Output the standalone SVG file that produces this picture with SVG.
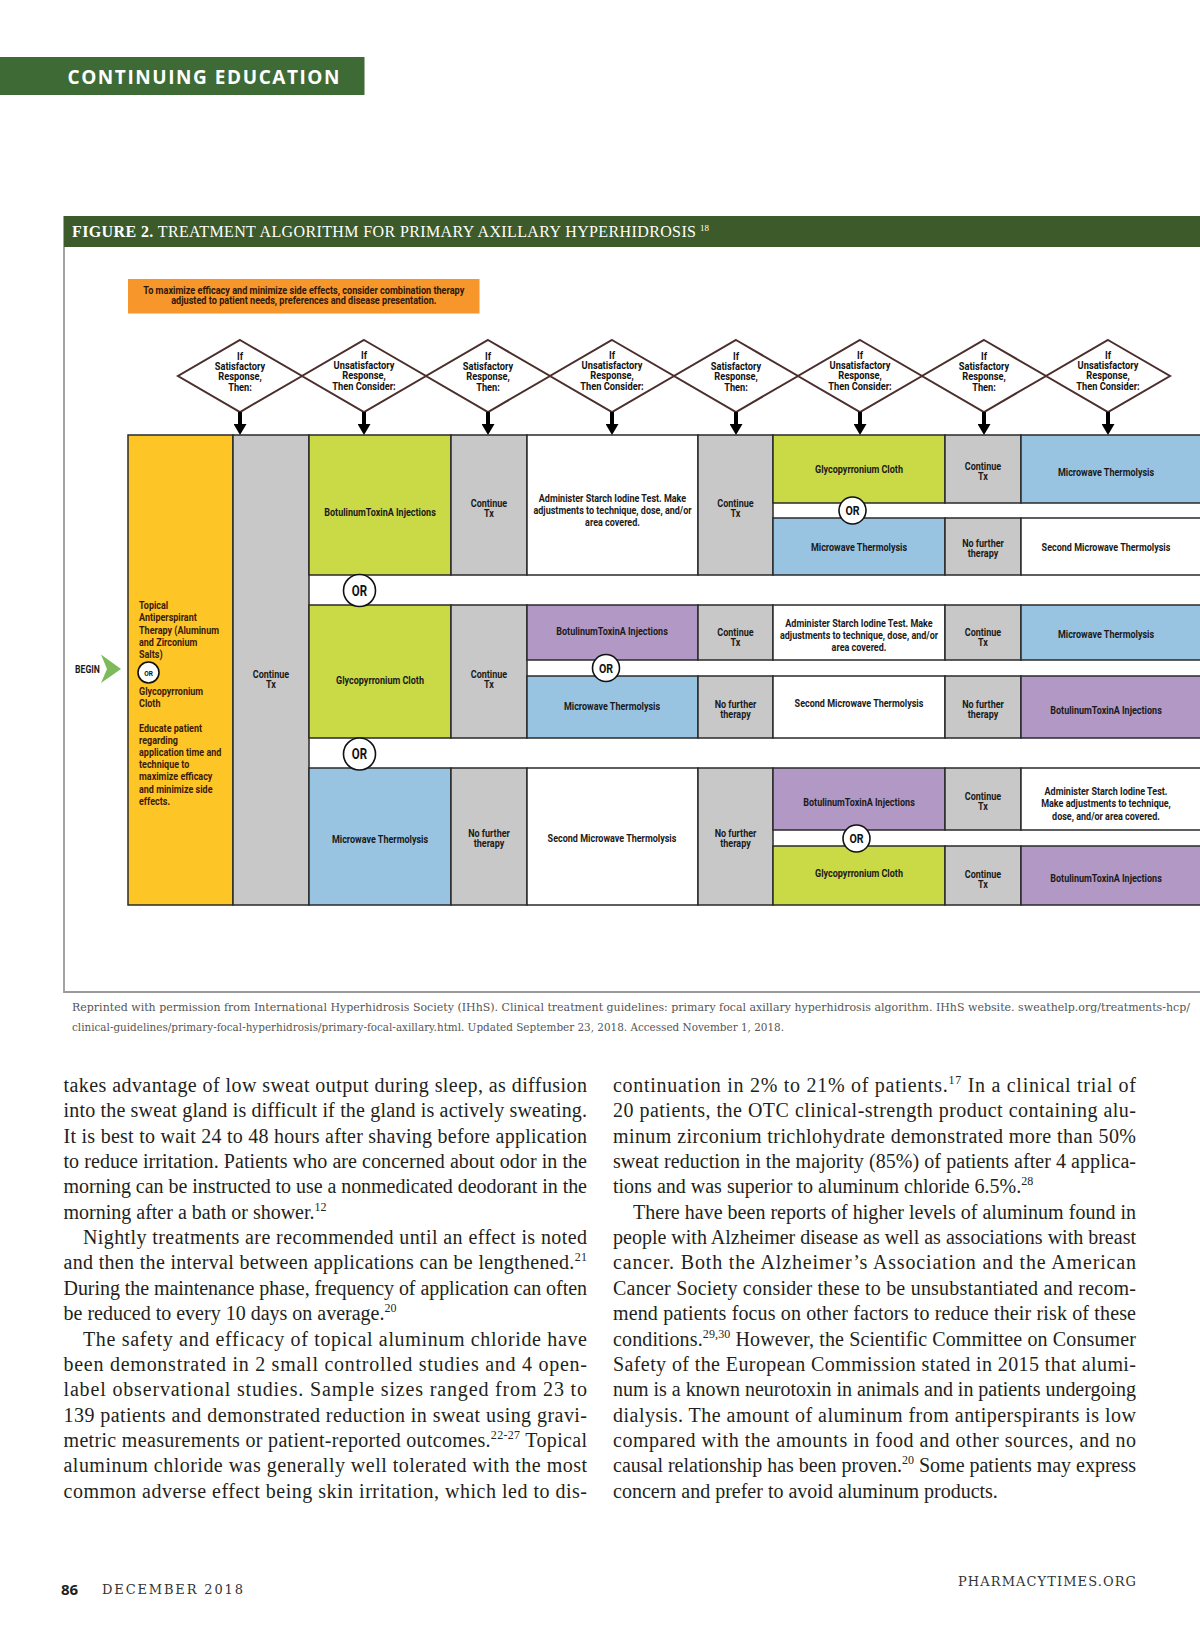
<svg xmlns="http://www.w3.org/2000/svg" width="1200" height="1638" viewBox="0 0 1200 1638">
<defs>
<style>
.c{stroke:#2a2a2a;stroke-width:1.5}
.y{fill:#fec526}.g{fill:#c8c8c8}.l{fill:#cad946}.b{fill:#98c4e2}.p{fill:#b298c4}.w{fill:#fff}
.t{font-family:Roboto,"Liberation Sans",sans-serif;font-weight:700;font-size:11px;fill:#1a1a1a;text-anchor:middle}
.ty{font-family:Roboto,"Liberation Sans",sans-serif;font-weight:700;font-size:11px;fill:#3b1a0c}
.dt{font-family:Roboto,"Liberation Sans",sans-serif;font-weight:700;font-size:10.3px;fill:#111;text-anchor:middle}
.dm{fill:#fff;stroke:#4b2e2c;stroke-width:2}
.orc{fill:#fff;stroke:#111;stroke-width:1.6}
.ort{font-family:Roboto,"Liberation Sans",sans-serif;font-weight:700;fill:#111;text-anchor:middle}
.body{font-family:"Liberation Serif","Times New Roman",serif;font-size:20px;fill:#231f20}
.sup{font-size:12px}
.cap{font-family:"DejaVu Serif",serif;font-size:10.8px;fill:#555}
</style>
<marker id="ah" viewBox="0 0 11 13" markerWidth="11" markerHeight="13" refX="0" refY="6.5" orient="auto" markerUnits="userSpaceOnUse">
<path d="M0,0 L11,6.5 L0,13 z" fill="#000"/>
</marker>
</defs>
<rect width="1200" height="1638" fill="#fff"/>

<!-- page header -->
<g id="header">
<rect x="0" y="57" width="364.5" height="38" fill="#3e6b35"/>
<text x="67.5" y="83.5" font-family="'Open Sans','Liberation Sans',sans-serif" font-weight="700" font-size="19" fill="#fff" textLength="272" lengthAdjust="spacing">CONTINUING EDUCATION</text>
</g>

<!-- figure frame + title -->
<g id="figure-frame">
<path d="M64,216 V992 H1200" fill="none" stroke="#9a9a9a" stroke-width="1.8"/>
<rect x="64" y="216" width="1136" height="31" fill="#3c5a2a"/>
<text x="72" y="237" font-family="'Liberation Serif','Times New Roman',serif" font-size="16" fill="#fff" textLength="624" lengthAdjust="spacing"><tspan font-weight="700">FIGURE 2.</tspan> TREATMENT ALGORITHM FOR PRIMARY AXILLARY HYPERHIDROSIS</text>
<text x="700" y="230.5" font-family="'Liberation Serif','Times New Roman',serif" font-size="9" fill="#fff">18</text>
</g>

<!-- orange note -->
<g id="note">
<rect x="128" y="279" width="351.5" height="34.5" fill="#f7962a"/>
<text class="t" style="fill:#2e160a;font-size:10.5px" transform="translate(303.8,294) scale(.87,1)"><tspan x="0">To maximize efficacy and minimize side effects, consider combination therapy</tspan><tspan x="0" dy="10">adjusted to patient needs, preferences and disease presentation.</tspan></text>
</g>

<!-- decision diamonds -->
<g id="diamond-1"><polygon class="dm" points="240,340 302,376 240,412 178,376"/><text class="dt" transform="translate(240,359.5) scale(.9,1)"><tspan x="0">If</tspan><tspan x="0" dy="10.5">Satisfactory</tspan><tspan x="0" dy="10.5">Response,</tspan><tspan x="0" dy="10.5">Then:</tspan></text></g>
<g id="diamond-2"><polygon class="dm" points="364,340 426,376 364,412 302,376"/><text class="dt" transform="translate(364,358.5) scale(.9,1)"><tspan x="0">If</tspan><tspan x="0" dy="10.5">Unsatisfactory</tspan><tspan x="0" dy="10.5">Response,</tspan><tspan x="0" dy="11">Then Consider:</tspan></text></g>
<g id="diamond-3"><polygon class="dm" points="488,340 550,376 488,412 426,376"/><text class="dt" transform="translate(488,359.5) scale(.9,1)"><tspan x="0">If</tspan><tspan x="0" dy="10.5">Satisfactory</tspan><tspan x="0" dy="10.5">Response,</tspan><tspan x="0" dy="10.5">Then:</tspan></text></g>
<g id="diamond-4"><polygon class="dm" points="612,340 674,376 612,412 550,376"/><text class="dt" transform="translate(612,358.5) scale(.9,1)"><tspan x="0">If</tspan><tspan x="0" dy="10.5">Unsatisfactory</tspan><tspan x="0" dy="10.5">Response,</tspan><tspan x="0" dy="11">Then Consider:</tspan></text></g>
<g id="diamond-5"><polygon class="dm" points="736,340 798,376 736,412 674,376"/><text class="dt" transform="translate(736,359.5) scale(.9,1)"><tspan x="0">If</tspan><tspan x="0" dy="10.5">Satisfactory</tspan><tspan x="0" dy="10.5">Response,</tspan><tspan x="0" dy="10.5">Then:</tspan></text></g>
<g id="diamond-6"><polygon class="dm" points="860,340 922,376 860,412 798,376"/><text class="dt" transform="translate(860,358.5) scale(.9,1)"><tspan x="0">If</tspan><tspan x="0" dy="10.5">Unsatisfactory</tspan><tspan x="0" dy="10.5">Response,</tspan><tspan x="0" dy="11">Then Consider:</tspan></text></g>
<g id="diamond-7"><polygon class="dm" points="984,340 1046,376 984,412 922,376"/><text class="dt" transform="translate(984,359.5) scale(.9,1)"><tspan x="0">If</tspan><tspan x="0" dy="10.5">Satisfactory</tspan><tspan x="0" dy="10.5">Response,</tspan><tspan x="0" dy="10.5">Then:</tspan></text></g>
<g id="diamond-8"><polygon class="dm" points="1108,340 1170,376 1108,412 1046,376"/><text class="dt" transform="translate(1108,358.5) scale(.9,1)"><tspan x="0">If</tspan><tspan x="0" dy="10.5">Unsatisfactory</tspan><tspan x="0" dy="10.5">Response,</tspan><tspan x="0" dy="11">Then Consider:</tspan></text></g>

<!-- start column -->
<g id="begin">
<text class="t" transform="translate(87.5,673) scale(.82,1)" style="font-size:10.5px">BEGIN</text>
</g>
<g id="start-therapy">
<rect class="c y" x="128" y="435" width="105" height="470"/>
<text class="ty" transform="translate(139,609) scale(.82,1)"><tspan x="0">Topical</tspan><tspan x="0" dy="12.5">Antiperspirant</tspan><tspan x="0" dy="12.2">Therapy (Aluminum</tspan><tspan x="0" dy="12">and Zirconium</tspan><tspan x="0" dy="12">Salts)</tspan></text>
<circle class="orc" cx="148.5" cy="672.5" r="10.5"/>
<text class="ort" style="font-size:8px" transform="translate(148.5,675.5) scale(.82,1)">OR</text>
<text class="ty" transform="translate(139,695) scale(.82,1)"><tspan x="0">Glycopyrronium</tspan><tspan x="0" dy="12">Cloth</tspan></text>
<text class="ty" transform="translate(139,732) scale(.82,1)"><tspan x="0">Educate patient</tspan><tspan x="0" dy="12">regarding</tspan><tspan x="0" dy="12">application time and</tspan><tspan x="0" dy="12">technique to</tspan><tspan x="0" dy="12.5">maximize efficacy</tspan><tspan x="0" dy="12.2">and minimize side</tspan><tspan x="0" dy="12">effects.</tspan></text>
</g>
<g id="continue-0">
<rect class="c g" x="233" y="435" width="76" height="470"/>
<text class="t" transform="translate(271,678) scale(.82,1)"><tspan x="0">Continue</tspan><tspan x="0" dy="10">Tx</tspan></text>
</g>

<!-- row 1 -->
<g id="r1-botox"><rect class="c l" x="309" y="435" width="142" height="140"/><text class="t" transform="translate(380,515.7) scale(.82,1)">BotulinumToxinA Injections</text></g>
<g id="r1-continue-1"><rect class="c g" x="451" y="435" width="76" height="140"/><text class="t" transform="translate(489,506.7) scale(.82,1)"><tspan x="0">Continue</tspan><tspan x="0" dy="10">Tx</tspan></text></g>
<g id="r1-starch"><rect class="c w" x="527" y="435" width="171" height="140"/><text class="t" transform="translate(612.5,501.7) scale(.82,1)"><tspan x="0">Administer Starch Iodine Test. Make</tspan><tspan x="0" dy="12.4">adjustments to technique, dose, and/or</tspan><tspan x="0" dy="12.4">area covered.</tspan></text></g>
<g id="r1-continue-2"><rect class="c g" x="698" y="435" width="75" height="140"/><text class="t" transform="translate(735.5,507.3) scale(.82,1)"><tspan x="0">Continue</tspan><tspan x="0" dy="10">Tx</tspan></text></g>
<g id="r1-glyco"><rect class="c l" x="773" y="435" width="172" height="68"/><text class="t" transform="translate(859,473) scale(.82,1)">Glycopyrronium Cloth</text></g>
<g id="r1-microwave"><rect class="c b" x="773" y="518" width="172" height="57"/><text class="t" transform="translate(859,551) scale(.82,1)">Microwave Thermolysis</text></g>
<g id="r1-continue-3"><rect class="c g" x="945" y="435" width="76" height="68"/><text class="t" transform="translate(983,470) scale(.82,1)"><tspan x="0">Continue</tspan><tspan x="0" dy="10">Tx</tspan></text></g>
<g id="r1-nofurther-3"><rect class="c g" x="945" y="518" width="76" height="57"/><text class="t" transform="translate(983,546.7) scale(.82,1)"><tspan x="0">No further</tspan><tspan x="0" dy="10">therapy</tspan></text></g>
<g id="r1-microwave-2"><rect class="c b" x="1021" y="435" width="189" height="68"/><text class="t" transform="translate(1106,476) scale(.82,1)">Microwave Thermolysis</text></g>
<g id="r1-second-mw"><rect class="c w" x="1021" y="518" width="189" height="57"/><text class="t" transform="translate(1106,551) scale(.82,1)">Second Microwave Thermolysis</text></g>

<!-- row 2 -->
<g id="r2-glyco"><rect class="c l" x="309" y="605" width="142" height="133"/><text class="t" transform="translate(380,684) scale(.82,1)">Glycopyrronium Cloth</text></g>
<g id="r2-continue-1"><rect class="c g" x="451" y="605" width="76" height="133"/><text class="t" transform="translate(489,678) scale(.82,1)"><tspan x="0">Continue</tspan><tspan x="0" dy="10">Tx</tspan></text></g>
<g id="r2-botox"><rect class="c p" x="527" y="605" width="171" height="55"/><text class="t" transform="translate(612,635) scale(.82,1)">BotulinumToxinA Injections</text></g>
<g id="r2-microwave"><rect class="c b" x="527" y="676" width="171" height="62"/><text class="t" transform="translate(612,710) scale(.82,1)">Microwave Thermolysis</text></g>
<g id="r2-continue-2"><rect class="c g" x="698" y="605" width="75" height="55"/><text class="t" transform="translate(735.5,636) scale(.82,1)"><tspan x="0">Continue</tspan><tspan x="0" dy="10">Tx</tspan></text></g>
<g id="r2-nofurther-2"><rect class="c g" x="698" y="676" width="75" height="62"/><text class="t" transform="translate(735.5,708) scale(.82,1)"><tspan x="0">No further</tspan><tspan x="0" dy="10">therapy</tspan></text></g>
<g id="r2-starch"><rect class="c w" x="773" y="605" width="172" height="55"/><text class="t" transform="translate(859,626.7) scale(.82,1)"><tspan x="0">Administer Starch Iodine Test. Make</tspan><tspan x="0" dy="12.3">adjustments to technique, dose, and/or</tspan><tspan x="0" dy="12.3">area covered.</tspan></text></g>
<g id="r2-second-mw"><rect class="c w" x="773" y="676" width="172" height="62"/><text class="t" transform="translate(859,707) scale(.82,1)">Second Microwave Thermolysis</text></g>
<g id="r2-continue-3"><rect class="c g" x="945" y="605" width="76" height="55"/><text class="t" transform="translate(983,636) scale(.82,1)"><tspan x="0">Continue</tspan><tspan x="0" dy="10">Tx</tspan></text></g>
<g id="r2-nofurther-3"><rect class="c g" x="945" y="676" width="76" height="62"/><text class="t" transform="translate(983,708) scale(.82,1)"><tspan x="0">No further</tspan><tspan x="0" dy="10">therapy</tspan></text></g>
<g id="r2-microwave-2"><rect class="c b" x="1021" y="605" width="189" height="55"/><text class="t" transform="translate(1106,638) scale(.82,1)">Microwave Thermolysis</text></g>
<g id="r2-botox-2"><rect class="c p" x="1021" y="676" width="189" height="62"/><text class="t" transform="translate(1106,714) scale(.82,1)">BotulinumToxinA Injections</text></g>

<!-- row 3 -->
<g id="r3-microwave"><rect class="c b" x="309" y="768" width="142" height="137"/><text class="t" transform="translate(380,843) scale(.82,1)">Microwave Thermolysis</text></g>
<g id="r3-nofurther-1"><rect class="c g" x="451" y="768" width="76" height="137"/><text class="t" transform="translate(489,837.3) scale(.82,1)"><tspan x="0">No further</tspan><tspan x="0" dy="10">therapy</tspan></text></g>
<g id="r3-second-mw"><rect class="c w" x="527" y="768" width="171" height="137"/><text class="t" transform="translate(612,841.7) scale(.82,1)">Second Microwave Thermolysis</text></g>
<g id="r3-nofurther-2"><rect class="c g" x="698" y="768" width="75" height="137"/><text class="t" transform="translate(735.5,837.3) scale(.82,1)"><tspan x="0">No further</tspan><tspan x="0" dy="10">therapy</tspan></text></g>
<g id="r3-botox"><rect class="c p" x="773" y="768" width="172" height="62"/><text class="t" transform="translate(859,806) scale(.82,1)">BotulinumToxinA Injections</text></g>
<g id="r3-glyco"><rect class="c l" x="773" y="846" width="172" height="59"/><text class="t" transform="translate(859,877) scale(.82,1)">Glycopyrronium Cloth</text></g>
<g id="r3-continue-3a"><rect class="c g" x="945" y="768" width="76" height="62"/><text class="t" transform="translate(983,800) scale(.82,1)"><tspan x="0">Continue</tspan><tspan x="0" dy="10">Tx</tspan></text></g>
<g id="r3-continue-3b"><rect class="c g" x="945" y="846" width="76" height="59"/><text class="t" transform="translate(983,878) scale(.82,1)"><tspan x="0">Continue</tspan><tspan x="0" dy="10">Tx</tspan></text></g>
<g id="r3-starch"><rect class="c w" x="1021" y="768" width="189" height="62"/><text class="t" transform="translate(1106,795) scale(.82,1)"><tspan x="0">Administer Starch Iodine Test.</tspan><tspan x="0" dy="12.3">Make adjustments to technique,</tspan><tspan x="0" dy="12.3">dose, and/or area covered.</tspan></text></g>
<g id="r3-botox-2"><rect class="c p" x="1021" y="846" width="189" height="59"/><text class="t" transform="translate(1106,882) scale(.82,1)">BotulinumToxinA Injections</text></g>

<!-- OR badges -->
<g id="or-1"><circle class="orc" cx="359.5" cy="590.5" r="16"/><text class="ort" style="font-size:14px" transform="translate(359.5,595.5) scale(.82,1)">OR</text></g>
<g id="or-2"><circle class="orc" cx="359.5" cy="754" r="16"/><text class="ort" style="font-size:14px" transform="translate(359.5,759) scale(.82,1)">OR</text></g>
<g id="or-3"><circle class="orc" cx="852.5" cy="510.5" r="13.5"/><text class="ort" style="font-size:13px" transform="translate(852.5,515) scale(.82,1)">OR</text></g>
<g id="or-4"><circle class="orc" cx="606" cy="668" r="13.5"/><text class="ort" style="font-size:13px" transform="translate(606,672.5) scale(.82,1)">OR</text></g>
<g id="or-5"><circle class="orc" cx="856.5" cy="838.5" r="13.5"/><text class="ort" style="font-size:13px" transform="translate(856.5,843) scale(.82,1)">OR</text></g>

<!-- connectors -->
<g id="connectors" stroke="#000" stroke-width="4" fill="none">
<line x1="240" y1="412" x2="240" y2="424" marker-end="url(#ah)"/>
<line x1="364" y1="412" x2="364" y2="424" marker-end="url(#ah)"/>
<line x1="488" y1="412" x2="488" y2="424" marker-end="url(#ah)"/>
<line x1="612" y1="412" x2="612" y2="424" marker-end="url(#ah)"/>
<line x1="736" y1="412" x2="736" y2="424" marker-end="url(#ah)"/>
<line x1="860" y1="412" x2="860" y2="424" marker-end="url(#ah)"/>
<line x1="984" y1="412" x2="984" y2="424" marker-end="url(#ah)"/>
<line x1="1108" y1="412" x2="1108" y2="424" marker-end="url(#ah)"/>
<polygon points="101,654.5 121,669 101,683 107,669" fill="#7cba5b" stroke="none"/>
</g>

<!-- caption -->
<g id="caption">
<text class="cap" x="72" y="1011" textLength="1118" lengthAdjust="spacingAndGlyphs">Reprinted with permission from International Hyperhidrosis Society (IHhS). Clinical treatment guidelines: primary focal axillary hyperhidrosis algorithm. IHhS website. sweathelp.org/treatments-hcp/</text>
<text class="cap" x="72" y="1031" textLength="712" lengthAdjust="spacingAndGlyphs">clinical-guidelines/primary-focal-hyperhidrosis/primary-focal-axillary.html. Updated September 23, 2018. Accessed November 1, 2018.</text>
</g>

<!-- body text left column -->
<g id="body-left" class="body">
<text x="63.5" y="1092" textLength="523.5" lengthAdjust="spacing">takes advantage of low sweat output during sleep, as diffusion</text>
<text x="63.5" y="1117.35" textLength="523.5" lengthAdjust="spacing">into the sweat gland is difficult if the gland is actively sweating.</text>
<text x="63.5" y="1142.7" textLength="523.5" lengthAdjust="spacing">It is best to wait 24 to 48 hours after shaving before application</text>
<text x="63.5" y="1168.05" textLength="523.5" lengthAdjust="spacing">to reduce irritation. Patients who are concerned about odor in the</text>
<text x="63.5" y="1193.4" textLength="523.5" lengthAdjust="spacing">morning can be instructed to use a nonmedicated deodorant in the</text>
<text x="63.5" y="1218.75">morning after a bath or shower.<tspan class="sup" dy="-8">12</tspan></text>
<text x="83" y="1244.1" textLength="504" lengthAdjust="spacing">Nightly treatments are recommended until an effect is noted</text>
<text x="63.5" y="1269.45" textLength="523.5" lengthAdjust="spacing">and then the interval between applications can be lengthened.<tspan class="sup" dy="-8">21</tspan></text>
<text x="63.5" y="1294.8" textLength="523.5" lengthAdjust="spacing">During the maintenance phase, frequency of application can often</text>
<text x="63.5" y="1320.15">be reduced to every 10 days on average.<tspan class="sup" dy="-8">20</tspan></text>
<text x="83" y="1345.5" textLength="504" lengthAdjust="spacing">The safety and efficacy of topical aluminum chloride have</text>
<text x="63.5" y="1370.85" textLength="523.5" lengthAdjust="spacing">been demonstrated in 2 small controlled studies and 4 open-</text>
<text x="63.5" y="1396.2" textLength="523.5" lengthAdjust="spacing">label observational studies. Sample sizes ranged from 23 to</text>
<text x="63.5" y="1421.55" textLength="523.5" lengthAdjust="spacing">139 patients and demonstrated reduction in sweat using gravi-</text>
<text x="63.5" y="1446.9" textLength="523.5" lengthAdjust="spacing">metric measurements or patient-reported outcomes.<tspan class="sup" dy="-8">22-27</tspan><tspan dy="8"> Topical</tspan></text>
<text x="63.5" y="1472.25" textLength="523.5" lengthAdjust="spacing">aluminum chloride was generally well tolerated with the most</text>
<text x="63.5" y="1497.6" textLength="523.5" lengthAdjust="spacing">common adverse effect being skin irritation, which led to dis-</text>
</g>

<!-- body text right column -->
<g id="body-right" class="body">
<text x="613" y="1092" textLength="523" lengthAdjust="spacing">continuation in 2% to 21% of patients.<tspan class="sup" dy="-8">17</tspan><tspan dy="8"> In a clinical trial of</tspan></text>
<text x="613" y="1117.35" textLength="523" lengthAdjust="spacing">20 patients, the OTC clinical-strength product containing alu-</text>
<text x="613" y="1142.7" textLength="523" lengthAdjust="spacing">minum zirconium trichlohydrate demonstrated more than 50%</text>
<text x="613" y="1168.05" textLength="523" lengthAdjust="spacing">sweat reduction in the majority (85%) of patients after 4 applica-</text>
<text x="613" y="1193.4">tions and was superior to aluminum chloride 6.5%.<tspan class="sup" dy="-8">28</tspan></text>
<text x="633" y="1218.75" textLength="503" lengthAdjust="spacing">There have been reports of higher levels of aluminum found in</text>
<text x="613" y="1244.1" textLength="523" lengthAdjust="spacing">people with Alzheimer disease as well as associations with breast</text>
<text x="613" y="1269.45" textLength="523" lengthAdjust="spacing">cancer. Both the Alzheimer’s Association and the American</text>
<text x="613" y="1294.8" textLength="523" lengthAdjust="spacing">Cancer Society consider these to be unsubstantiated and recom-</text>
<text x="613" y="1320.15" textLength="523" lengthAdjust="spacing">mend patients focus on other factors to reduce their risk of these</text>
<text x="613" y="1345.5" textLength="523" lengthAdjust="spacing">conditions.<tspan class="sup" dy="-8">29,30</tspan><tspan dy="8"> However, the Scientific Committee on Consumer</tspan></text>
<text x="613" y="1370.85" textLength="523" lengthAdjust="spacing">Safety of the European Commission stated in 2015 that alumi-</text>
<text x="613" y="1396.2" textLength="523" lengthAdjust="spacing">num is a known neurotoxin in animals and in patients undergoing</text>
<text x="613" y="1421.55" textLength="523" lengthAdjust="spacing">dialysis. The amount of aluminum from antiperspirants is low</text>
<text x="613" y="1446.9" textLength="523" lengthAdjust="spacing">compared with the amounts in food and other sources, and no</text>
<text x="613" y="1472.25" textLength="523" lengthAdjust="spacing">causal relationship has been proven.<tspan class="sup" dy="-8">20</tspan><tspan dy="8"> Some patients may express</tspan></text>
<text x="613" y="1497.6">concern and prefer to avoid aluminum products.</text>
</g>

<!-- page footer -->
<g id="footer">
<text x="61" y="1595" font-family="'Open Sans','Liberation Sans',sans-serif" font-weight="700" font-size="15" fill="#231f20">86</text>
<text x="102" y="1594" font-family="'DejaVu Serif',serif" font-size="13" fill="#333" textLength="141" lengthAdjust="spacing">DECEMBER 2018</text>
<text x="958" y="1586" font-family="'DejaVu Serif',serif" font-size="13" fill="#333" textLength="178" lengthAdjust="spacing">PHARMACYTIMES.ORG</text>
</g>
</svg>
